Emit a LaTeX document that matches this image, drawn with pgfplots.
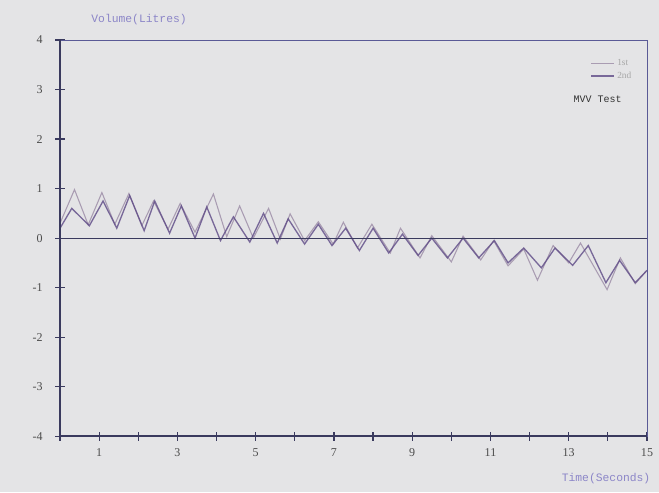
\documentclass[border=0pt]{standalone}
\usepackage{pgfplots}
\pgfplotsset{compat=1.18}
\usepackage{fontspec}
\setmainfont{Liberation Serif}
\newfontfamily\monofont{Liberation Mono}
\usetikzlibrary{backgrounds}
\definecolor{bg}{HTML}{E4E4E6}
\definecolor{axisc}{HTML}{3A3A5E}
\definecolor{framec}{HTML}{5A5A96}
\definecolor{lblc}{HTML}{8C86C8}
\definecolor{lightser}{HTML}{A99CB2}
\definecolor{darkser}{HTML}{5E4A86}
\begin{document}
\begin{tikzpicture}
\begin{axis}[
  scale only axis,
  clip=false,
  width=440pt, height=297pt,
  xmin=0, xmax=15, ymin=-4, ymax=4,
  xtick={0,...,15},
  xticklabels={,1,,3,,5,,7,,9,,11,,13,,15},
  ytick={-4,...,4},
  xtick pos=bottom, ytick pos=left,
  tick align=center,
  major tick length=7pt,
  tick style={draw=axisc, line width=0.9pt},
  axis line style={draw=framec, line width=0.6pt},
  ticklabel style={font=\fontsize{9}{10}\selectfont, text=black!70},
  /pgf/number format/assume math mode=true,
  xticklabel style={yshift=-2pt},
  yticklabel style={xshift=-6pt},
  legend style={draw=none, fill=none, at={(0.985,0.965)}, anchor=north east,
    font=\fontsize{7}{8}\selectfont, text=black!35, row sep=-1pt},
  legend cell align=left,
]
\addplot[lightser, line width=0.8pt] coordinates {
(0,0.3) (0.37,0.98) (0.72,0.27) (1.07,0.92) (1.4,0.28) (1.76,0.9) (2.09,0.25)
(2.39,0.75) (2.76,0.18) (3.07,0.7) (3.45,0.12) (3.92,0.89) (4.26,0.03) (4.59,0.65)
(4.94,0.0) (5.33,0.6) (5.63,-0.02) (5.88,0.49) (6.25,-0.05) (6.6,0.33) (6.98,-0.12)
(7.24,0.32) (7.6,-0.2) (7.97,0.28) (8.44,-0.3) (8.7,0.2) (9.2,-0.4) (9.5,0.05)
(10.0,-0.48) (10.3,0.04) (10.75,-0.44) (11.08,-0.05) (11.45,-0.56) (11.85,-0.22)
(12.2,-0.85) (12.6,-0.15) (13.0,-0.5) (13.3,-0.1) (13.98,-1.04) (14.32,-0.4)
(14.7,-0.92) (14.97,-0.68)};
\addlegendentry{1st}
\addplot[darkser, line width=1.0pt, opacity=0.8] coordinates {
(0,0.2) (0.3,0.6) (0.75,0.25) (1.1,0.75) (1.45,0.2) (1.78,0.86) (2.15,0.15)
(2.42,0.75) (2.8,0.1) (3.1,0.65) (3.45,0.0) (3.75,0.63) (4.1,-0.05) (4.43,0.43)
(4.85,-0.08) (5.2,0.5) (5.55,-0.1) (5.83,0.39) (6.25,-0.12) (6.6,0.28) (6.95,-0.15)
(7.3,0.2) (7.65,-0.25) (8.0,0.2) (8.4,-0.3) (8.75,0.08) (9.15,-0.35) (9.5,0.0)
(9.9,-0.4) (10.3,0.0) (10.7,-0.4) (11.1,-0.05) (11.45,-0.5) (11.85,-0.2)
(12.3,-0.6) (12.65,-0.2) (13.1,-0.55) (13.5,-0.15) (13.95,-0.9) (14.3,-0.45)
(14.7,-0.9) (15.0,-0.65)};
\addlegendentry{2nd}
\addplot[axisc, line width=0.9pt, forget plot] coordinates {(0,0) (15,0)};
\draw[axisc, line width=1.3pt] (rel axis cs:0,1) -- (rel axis cs:0,0) -- (rel axis cs:1,0);
\node[anchor=east, font=\monofont\fontsize{7.5}{8}\selectfont, text=black!80] at (rel axis cs:0.965,0.85) {MVV Test};
\node[anchor=south west, font=\monofont\fontsize{8.5}{9}\selectfont, text=lblc] at ([xshift=20pt,yshift=8pt]rel axis cs:0,1) {Volume(Litres)};
\node[anchor=north east, font=\monofont\fontsize{8.5}{9}\selectfont, text=lblc] at ([xshift=6pt,yshift=-24pt]rel axis cs:1,0) {Time(Seconds)};
\end{axis}
\begin{scope}[on background layer]
\fill[bg] (-45pt,-42pt) rectangle (449pt,327pt);
\end{scope}
\pgfresetboundingbox
\useasboundingbox (-45pt,-42pt) rectangle (449pt,327pt);
\end{tikzpicture}
\end{document}
